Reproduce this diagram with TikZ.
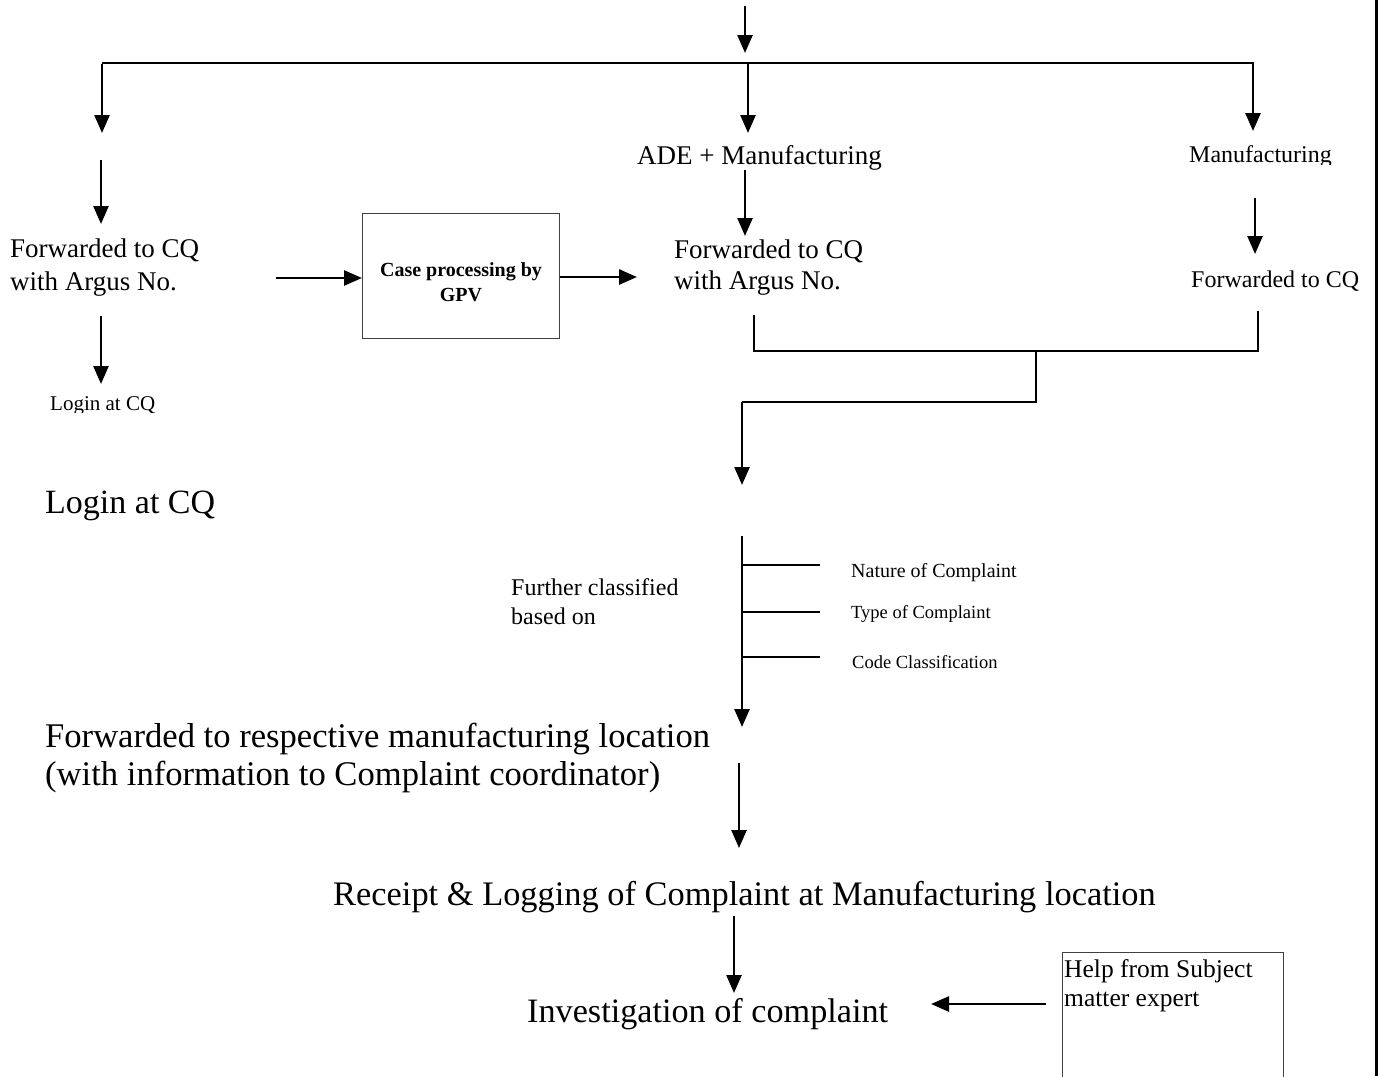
\documentclass[tikz,border=0pt]{standalone}
\usepackage{fontspec}
\setmainfont{Liberation Serif}
\usetikzlibrary{arrows.meta}
\newcommand\myfs[2]{\fontsize{#1}{#2}\selectfont}
\begin{document}
\begin{tikzpicture}[x=1pt,y=-1pt,
  arr/.style={line width=2.5pt,-{Triangle[length=18pt,width=15pt]}},
  ln/.style={line width=2pt},
  txt/.style={inner sep=0pt, anchor=base west, align=left},
  box/.style={draw=black!75, line width=1pt, inner sep=0pt},
]
\clip (0,0) rectangle (1378,1076);
\fill[white] (0,0) rectangle (1378,1076);

% texts (multi-line nodes: base = last line baseline)
\node[txt,font=\myfs{27}{32}] (ade) at (637,164) {ADE + Manufacturing};
\begin{scope}
\clip (1150,130) rectangle (1378,164.5);
\node[txt,font=\myfs{24}{29}] (manu) at (1189,162) {Manufacturing};
\end{scope}
\node[txt,font=\myfs{27}{33}] (fl) at (10,290) {Forwarded to CQ\\with Argus No.};
\node[box, minimum width=197pt, minimum height=125pt, anchor=north west] (gpv) at (362,213) {};
\node[inner sep=0pt, align=center, font=\bfseries\myfs{20}{25}] (gpvt) at (461,282) {Case processing by\\GPV};
\node[txt,font=\myfs{27}{31}] (fm) at (674,289) {Forwarded to CQ\\with Argus No.};
\node[txt,font=\myfs{24}{29}] (fr) at (1191,287) {Forwarded to CQ};
\begin{scope}
\clip (0,380) rectangle (300,412.5);
\node[txt,font=\myfs{21}{25}] (ls) at (50,410) {Login at CQ};
\end{scope}
\node[txt,font=\myfs{34}{38}] (lb) at (45,513) {Login at CQ};
\node[txt,font=\myfs{24}{29}] (fc) at (511,624) {Further classified\\based on};
\node[txt,font=\myfs{20}{24}] (nat) at (851,577) {Nature of Complaint};
\node[txt,font=\myfs{18.5}{22}] (typ) at (851,618) {Type of Complaint};
\node[txt,font=\myfs{18.5}{22}] (code) at (852,668) {Code Classification};
\node[txt,font=\myfs{34.6}{38}] (fwd) at (45,785) {Forwarded to respective manufacturing location\\(with information to Complaint coordinator)};
\node[txt,font=\myfs{34.4}{38}] (rec) at (333,905) {Receipt \& Logging of Complaint at Manufacturing location};
\node[txt,font=\myfs{34.2}{38}] (inv) at (527,1022) {Investigation of complaint};
\node[box, minimum width=221pt, minimum height=140pt, anchor=north west] (help) at (1062,952) {};
\node[txt,font=\myfs{25.5}{29}] (helpt) at (1064,1006) {Help from Subject\\matter expert};

% connector points
\coordinate (t0) at (745,6);   \coordinate (t1) at (745,53);
\coordinate (hl) at (102,63);  \coordinate (hr) at (1254,63);
\coordinate (a1) at (102,64);  \coordinate (a1e) at (102,133);
\coordinate (a2) at (748,64);  \coordinate (a2e) at (748,133);
\coordinate (a3) at (1253,64); \coordinate (a3e) at (1253,131);
\coordinate (b1) at (101,160); \coordinate (b1e) at (101,224);
\coordinate (b2) at (745,170); \coordinate (b2e) at (745,236);
\coordinate (b3) at (1255,198);\coordinate (b3e) at (1255,254);
\coordinate (c1) at (101,316); \coordinate (c1e) at (101,384);
\coordinate (h1) at (276,278); \coordinate (h2) at (637,277);
\coordinate (k1) at (754,315); \coordinate (k2) at (754,351);
\coordinate (k3) at (1258,351);\coordinate (k4) at (1258,311);
\coordinate (m1) at (1036,351);\coordinate (m2) at (1036,402);
\coordinate (m3) at (742,402); \coordinate (m4) at (742,485);
\coordinate (v1) at (742,536); \coordinate (v2) at (742,727);
\coordinate (n1) at (742,565); \coordinate (n2) at (820,565);
\coordinate (p1) at (742,612); \coordinate (p2) at (820,612);
\coordinate (q1) at (742,657); \coordinate (q2) at (820,657);
\coordinate (w1) at (739,763); \coordinate (w2) at (739,848);
\coordinate (z1) at (734,916); \coordinate (z2) at (734,993);
\coordinate (e1) at (1046,1004);\coordinate (e2) at (931,1004);

\draw[arr] (t0) -- (t1);
\draw[ln] (hl) -- (hr);
\draw[arr] (a1) -- (a1e);
\draw[arr] (a2) -- (a2e);
\draw[arr] (a3) -- (a3e);
\draw[arr] (b1) -- (b1e);
\draw[arr] (b2) -- (b2e);
\draw[arr] (b3) -- (b3e);
\draw[arr] (c1) -- (c1e);
\draw[arr] (h1) -- (gpv.west |- h1);
\draw[arr] (gpv.east |- h2) -- (h2);
\draw[ln] (k1) -- (k2) -- (k3) -- (k4);
\draw[ln] (m1) -- (m2) -- (m3);
\draw[arr] (m3) -- (m4);
\draw[arr] (v1) -- (v2);
\draw[ln] (n1) -- (n2);
\draw[ln] (p1) -- (p2);
\draw[ln] (q1) -- (q2);
\draw[arr] (w1) -- (w2);
\draw[arr] (z1) -- (z2);
\draw[arr] (e1) -- (e2);
\draw[line width=3pt] (1376.5,0) -- (1376.5,1076);
\end{tikzpicture}
\end{document}
